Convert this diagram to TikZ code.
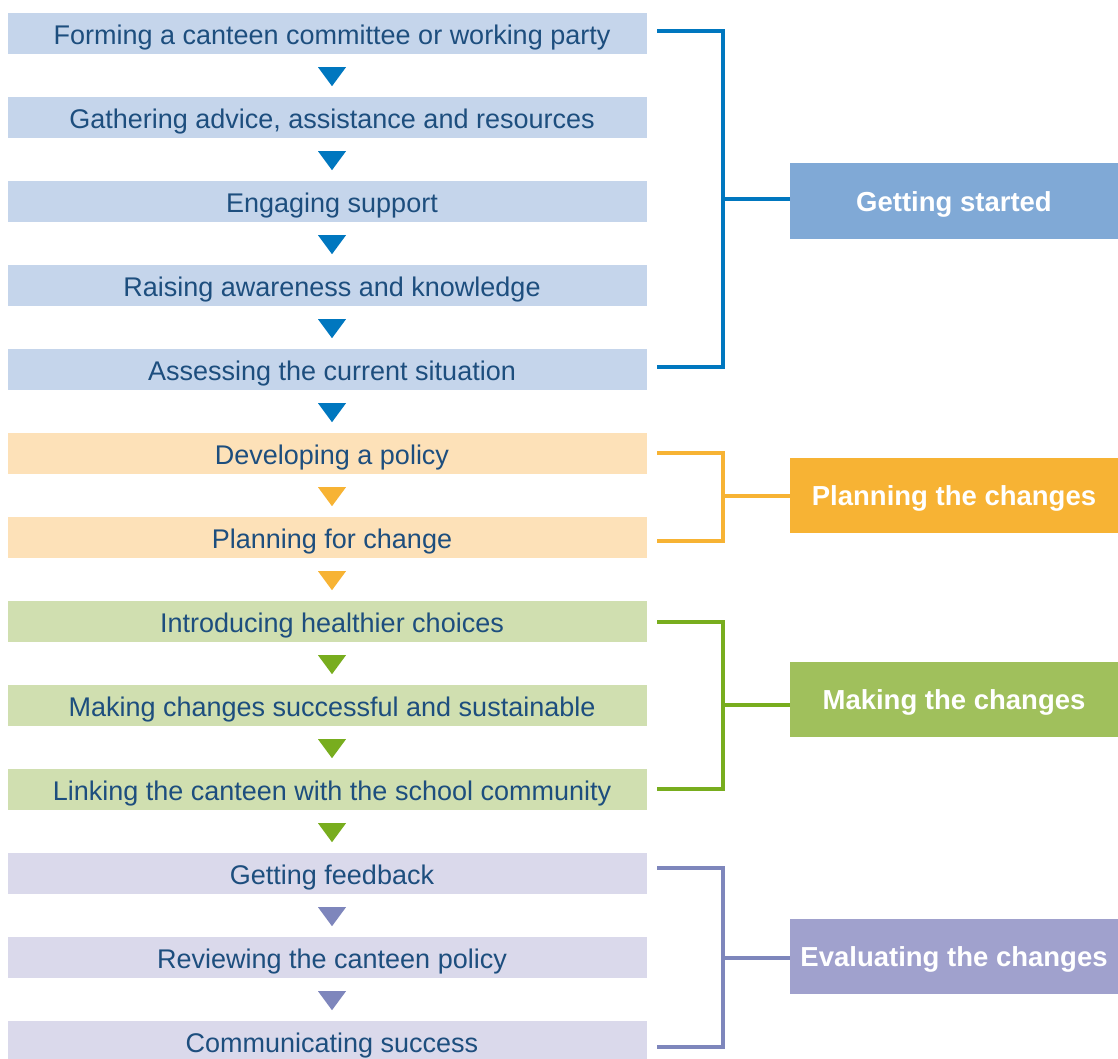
\documentclass[tikz,border=0pt]{standalone}
\usepackage{fontspec}
\setmainfont{Liberation Sans}
\usepackage{tikz}
\usetikzlibrary{calc,positioning}

\definecolor{steptext}{HTML}{1D4E7E}
\definecolor{gslight}{HTML}{C5D5EB}
\definecolor{gsdark}{HTML}{0077BF}
\definecolor{gsfill}{HTML}{80A9D6}
\definecolor{pllight}{HTML}{FDE1B8}
\definecolor{pldark}{HTML}{F7B334}
\definecolor{plfill}{HTML}{F7B334}
\definecolor{mklight}{HTML}{D0DFB0}
\definecolor{mkdark}{HTML}{78AD1E}
\definecolor{mkfill}{HTML}{A0C05C}
\definecolor{evlight}{HTML}{DAD9EB}
\definecolor{evdark}{HTML}{7E86BC}
\definecolor{evfill}{HTML}{A0A1CD}

\begin{document}
\begin{tikzpicture}[x=1pt, y=-1pt,
    stepbox/.style={rectangle, inner sep=0pt, minimum width=639pt, minimum height=41pt, text=steptext, font=\fontsize{27}{27}\selectfont, text height=22.5pt, text depth=0pt},
    phasebox/.style={rectangle, inner sep=0pt, minimum width=328pt, minimum height=75pt, text=white, font=\bfseries\fontsize{27.5}{27.5}\selectfont, text height=20.5pt, text depth=0pt},
    bracket/.style={line width=3.8pt}]

            \useasboundingbox (0,0) rectangle (1118,1059);

            % steps
            \foreach \i/\c/\t in {1/gs/Forming a canteen committee or working party, 2/gs/{Gathering advice, assistance and resources}, 3/gs/Engaging support, 4/gs/Raising awareness and knowledge, 5/gs/Assessing the current situation, 6/pl/Developing a policy, 7/pl/Planning for change, 8/mk/Introducing healthier choices, 9/mk/Making changes successful and sustainable, 10/mk/Linking the canteen with the school community, 11/ev/Getting feedback, 12/ev/Reviewing the canteen policy, 13/ev/Communicating success}{
                \node[stepbox, fill=\c light] (b\i) at (327.5, {33.5+84*(\i-1)}) {\hspace*{9pt}\t};
            }

            % triangles between steps
            \foreach \i/\c in {1/gs, 2/gs, 3/gs, 4/gs, 5/gs, 6/pl, 7/pl, 8/mk, 9/mk, 10/mk, 11/ev, 12/ev}{
                \fill[\c dark] ($(b\i.south)+(-9.5,13)$) -- ++(28,0) -- ++(-14,19) -- cycle;
            }

            % phases
            \node[phasebox, fill=gsfill, minimum height=76pt] (gs) at (954, 201) {Getting started};
            \node[phasebox, fill=plfill] (pl) at (954, 495.5) {Planning the changes};
            \node[phasebox, fill=mkfill] (mk) at (954, 699.5) {Making the changes};
            \node[phasebox, fill=evfill] (ev) at (954, 956.5) {Evaluating the changes};

            % brackets
            \foreach \c/\top/\bot/\mid in {gs/31/367/199, pl/453/541/496, mk/622/789/705, ev/868/1047/958}{
                \draw[bracket, \c dark] (657,\top) -| (723,\bot) -- (657,\bot);
                \coordinate (\c mid) at (723,\mid);
                \draw[bracket, \c dark] (\c mid) -- (\c mid -| \c.west);
            }

    \end{tikzpicture}
\end{document}
